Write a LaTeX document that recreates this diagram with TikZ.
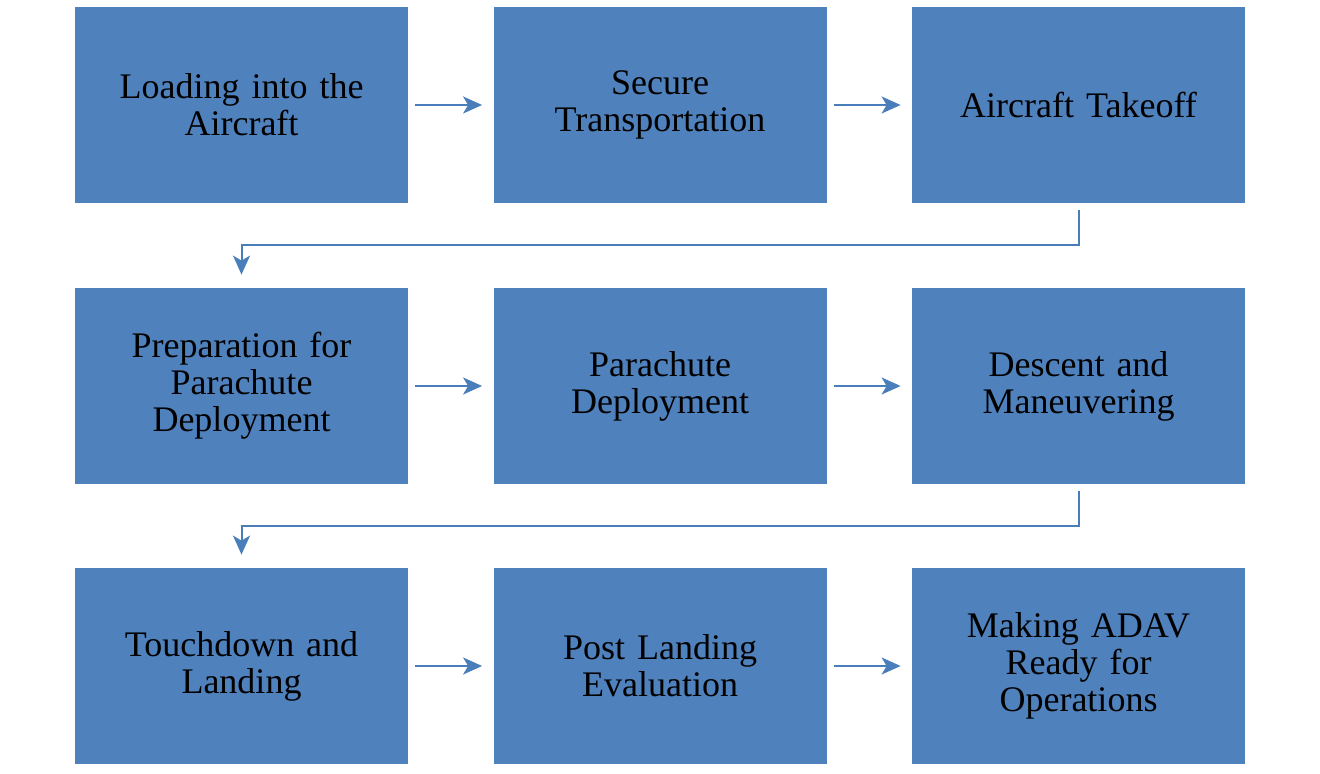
\documentclass[tikz,border=0pt]{standalone}
\usepackage{fontspec}
\setmainfont{Liberation Serif}
\usetikzlibrary{arrows.meta,calc}
\definecolor{boxblue}{HTML}{4F81BD}
\definecolor{arrblue}{HTML}{4A7EBB}
\tikzset{
  stepbox/.style={fill=boxblue, draw=none, minimum width=166.5pt, minimum height=98pt,
    align=center, text width=150pt, font=\fontsize{18pt}{18.5pt}\selectfont, inner sep=0pt},
  flow/.style={draw=arrblue, line width=1pt, -{Stealth[length=9.5pt,width=8.5pt,inset=2.5pt]}},
}
\begin{document}
\begin{tikzpicture}[x=0.5pt,y=-0.5pt]
\useasboundingbox (0,0) rectangle (1320,774);
\node[stepbox] (a) at (241.5,105) {Loading into the\\Aircraft};
\node[stepbox] (b) at (660,105) {Secure\\Transportation};
\node[stepbox] (c) at (1078.5,105) {Aircraft Takeoff};
\node[stepbox] (d) at (241.5,386) {Preparation for\\Parachute\\Deployment};
\node[stepbox] (e) at (660,386) {Parachute\\Deployment};
\node[stepbox] (f) at (1078.5,386) {Descent and\\Maneuvering};
\node[stepbox] (g) at (241.5,666) {Touchdown and\\Landing};
\node[stepbox] (h) at (660,666) {Post Landing\\Evaluation};
\node[stepbox] (i) at (1078.5,666) {Making ADAV\\Ready for\\Operations};
\foreach \u/\v in {a/b,b/c,d/e,e/f,g/h,h/i}
  \draw[flow, shorten <=3.5pt, shorten >=5.5pt] (\u.east) -- (\v.west);
\coordinate (cd) at (0,245);
\coordinate (fg) at (0,526);
\draw[flow, shorten <=3.5pt, shorten >=6.5pt] (c.south) |- (c.south |- cd) -| (d.north);
\draw[flow, shorten <=3.5pt, shorten >=6.5pt] (f.south) |- (f.south |- fg) -| (g.north);
\end{tikzpicture}
\end{document}
